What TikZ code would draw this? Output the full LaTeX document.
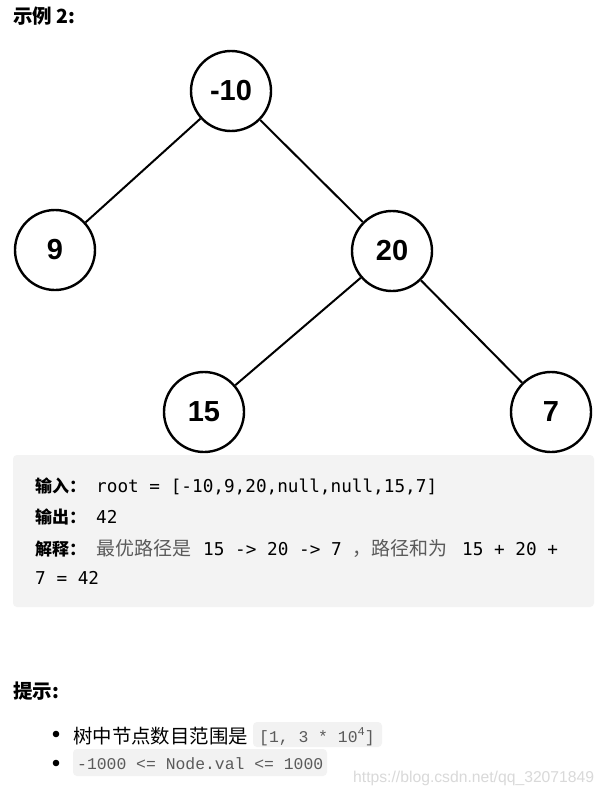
\documentclass[tikz,border=0pt]{standalone}
\usepackage{fontspec}
\setmainfont{Liberation Sans}
\newfontfamily\cjk{Noto Sans CJK SC}
\newfontfamily\monofont{DejaVu Sans Mono}
\newfontfamily\codefont{Liberation Mono}
\definecolor{boxgray}{HTML}{F3F3F3}
\definecolor{codegray}{HTML}{F2F2F2}
\definecolor{txtgray}{HTML}{5A5A5A}
\definecolor{wm}{HTML}{D9D9D9}
\tikzset{
  tnode/.style={circle,draw=black,line width=2.4pt,minimum size=80pt,inner sep=0pt,
    font=\fontsize{29}{29}\selectfont\bfseries},
  tedge/.style={line width=2pt},
  txt/.style={anchor=base west,inner sep=0pt},
  lbl/.style={txt,font=\cjk\bfseries\fontsize{17}{17}\selectfont},
  graytxt/.style={txt,text=txtgray,font=\cjk\fontsize{19}{19}\selectfont},
  code/.style={txt,font=\monofont\fontsize{17.7}{17.7}\selectfont},
  head/.style={txt,font=\cjk\bfseries\fontsize{19.5}{19.5}\selectfont},
  bul/.style={txt,font=\cjk\fontsize{19.4}{19.4}\selectfont},
  icode/.style={txt,text=txtgray,font=\codefont\fontsize{16.4}{16.4}\selectfont},
  cbox/.style={fill=codegray,rounded corners=4pt},
}
\begin{document}
\begin{tikzpicture}[x=1pt,y=-1pt]
\useasboundingbox (0,0) rectangle (604,792);
\fill[white] (0,0) rectangle (604,792);

\node[head] (title) at (13,24) {示例 2:};

% tree
\node[tnode] (n10) at (231,91) {-10};
\node[tnode] (n9) at (55,250) {9};
\node[tnode] (n20) at (392,251) {20};
\node[tnode] (n15) at (204,412) {15};
\node[tnode] (n7) at (551,412) {7};
\draw[tedge] (n10) -- (n9);
\draw[tedge] (n10) -- (n20);
\draw[tedge] (n20) -- (n15);
\draw[tedge] (n20) -- (n7);

% example box
\fill[boxgray,rounded corners=4pt] (13,455) rectangle (594,607);
\node[lbl] (in) at (35,492) {输入：};
\node[code] (inv) at (96,492) {root = [-10,9,20,null,null,15,7]};
\node[lbl] (out) at (35,523) {输出：};
\node[code] (outv) at (96,523) {42};
\node[lbl] (ex) at (35,555) {解释：};
\node[graytxt] (ex1) at (96,555) {最优路径是};
\node[code] (ex2) at (203,555) {15 -> 20 -> 7};
\node[graytxt] (ex3) at (352,555) {，路径和为};
\node[code] (ex4) at (462,555) {15 + 20 +};
\node[code] (ex5) at (35,584) {7 = 42};

% hints
\node[head] (hint) at (13,698) {提示:};
\fill (56,734) circle (3.3pt);
\fill (56,763) circle (3.3pt);
\node[bul] (b1) at (73,743) {树中节点数目范围是};
\fill[cbox] (253,722) rectangle (382,747);
\node[icode] (c1) at (259,742) {[1, 3 * 10\raisebox{6.5pt}{\fontsize{12}{12}\selectfont 4}]};
\fill[cbox] (73,749) rectangle (327,776);
\node[icode] (c2) at (77,769) {-1000 <= Node.val <= 1000};
\node[txt,text=wm,font=\fontsize{15.7}{15.7}\selectfont] (wmk) at (353,782) {https://blog.csdn.net/qq\_32071849};
\end{tikzpicture}
\end{document}
